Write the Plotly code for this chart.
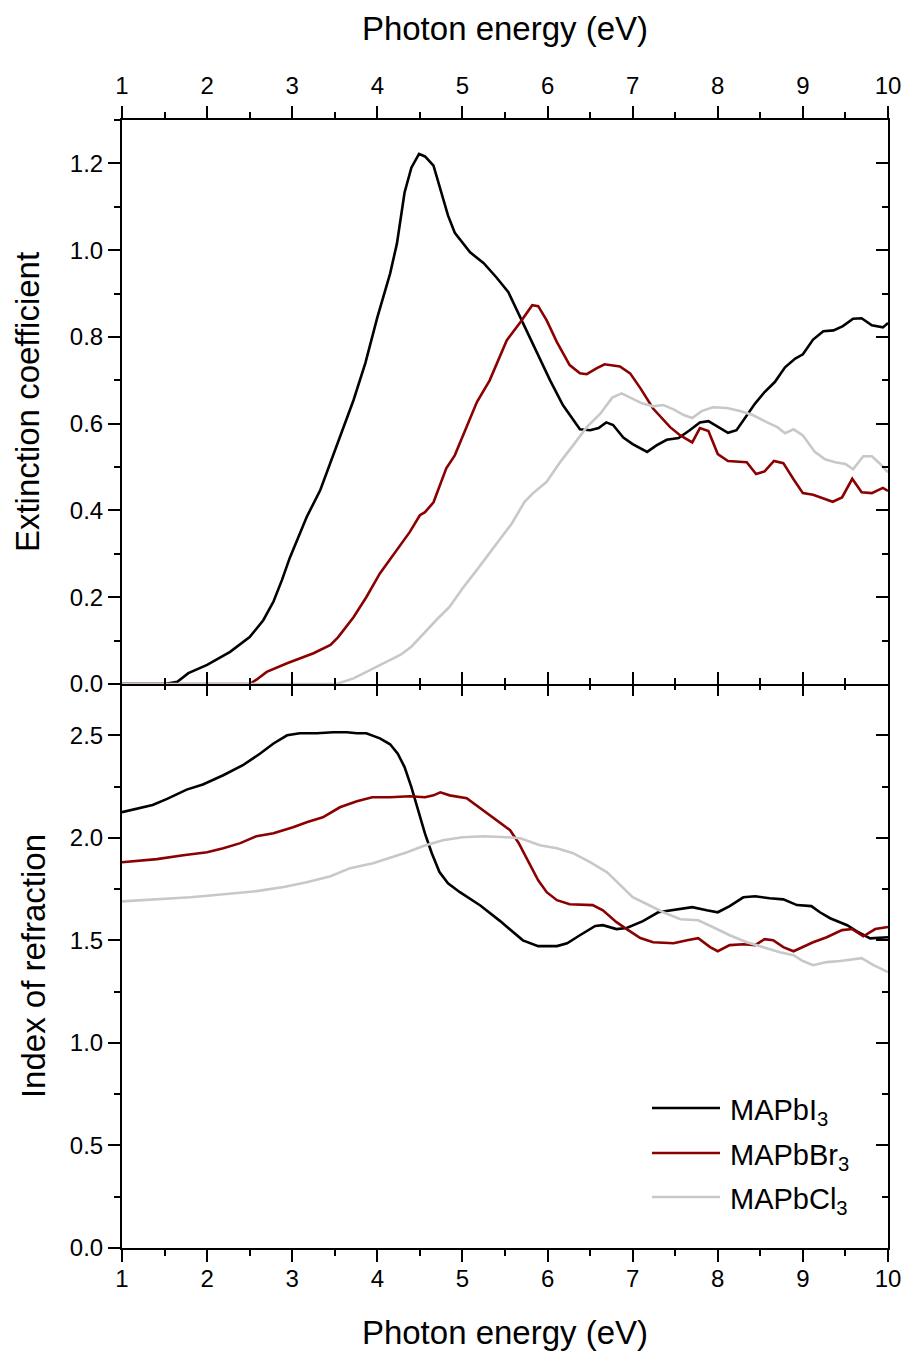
import plotly.graph_objects as go

# ---------------- data ----------------
# Extinction coefficient (top panel)
k_I_x = [1.0, 1.5, 1.65, 1.78, 2.0, 2.27, 2.5, 2.66, 2.78, 2.88, 2.97, 3.17, 3.33, 3.52, 3.72, 3.86, 4.0, 4.15, 4.23,
         4.32, 4.4, 4.49, 4.56, 4.66, 4.76, 4.83, 4.91, 5.09, 5.25, 5.4, 5.54, 5.68, 5.89, 6.03, 6.18, 6.38, 6.5,
         6.6, 6.69, 6.77, 6.89, 7.0, 7.17, 7.28, 7.4, 7.54, 7.67, 7.79, 7.89, 8.0, 8.12, 8.22, 8.32, 8.44, 8.55,
         8.67, 8.79, 8.91, 9.0, 9.12, 9.24, 9.36, 9.47, 9.59, 9.69, 9.81, 9.94, 10.0]
k_I_y = [0.0, 0.0, 0.005, 0.025, 0.044, 0.074, 0.108, 0.147, 0.19, 0.24, 0.29, 0.385, 0.447, 0.546, 0.654, 0.74,
         0.845, 0.946, 1.015, 1.133, 1.19, 1.222, 1.216, 1.195, 1.13, 1.08, 1.04, 0.995, 0.97, 0.937, 0.903, 0.845,
         0.757, 0.70, 0.643, 0.587, 0.585, 0.59, 0.603, 0.597, 0.568, 0.553, 0.535, 0.55, 0.563, 0.567, 0.585,
         0.603, 0.606, 0.593, 0.579, 0.585, 0.612, 0.647, 0.673, 0.696, 0.73, 0.75, 0.76, 0.794, 0.813, 0.815,
         0.825, 0.842, 0.843, 0.827, 0.822, 0.832]

k_Br_x = [1.0, 2.5, 2.58, 2.7, 2.94, 3.25, 3.45, 3.54, 3.72, 3.87, 4.03, 4.23, 4.38, 4.5, 4.56, 4.66, 4.81, 4.91,
          5.0, 5.09, 5.17, 5.32, 5.52, 5.68, 5.82, 5.89, 5.99, 6.11, 6.26, 6.38, 6.46, 6.58, 6.67, 6.85, 6.97,
          7.09, 7.24, 7.44, 7.56, 7.7, 7.79, 7.89, 8.0, 8.12, 8.34, 8.45, 8.55, 8.66, 8.77, 8.89, 9.0, 9.12,
          9.24, 9.35, 9.46, 9.58, 9.69, 9.81, 9.94, 10.0]
k_Br_y = [0.0, 0.0, 0.01, 0.028, 0.048, 0.071, 0.09, 0.108, 0.154, 0.2, 0.255, 0.309, 0.35, 0.389, 0.396, 0.419,
          0.497, 0.527, 0.569, 0.615, 0.65, 0.70, 0.792, 0.834, 0.873, 0.871, 0.838, 0.788, 0.735, 0.716, 0.714,
          0.728, 0.737, 0.732, 0.716, 0.682, 0.635, 0.592, 0.573, 0.557, 0.59, 0.583, 0.53, 0.514, 0.511, 0.484,
          0.49, 0.514, 0.509, 0.472, 0.44, 0.436, 0.428, 0.42, 0.43, 0.473, 0.442, 0.44, 0.452, 0.445]

k_Cl_x = [1.0, 3.52, 3.72, 4.0, 4.27, 4.4, 4.56, 4.71, 4.85, 5.0, 5.17, 5.36, 5.58, 5.73, 5.83, 5.99, 6.15, 6.3,
          6.46, 6.62, 6.76, 6.87, 6.97, 7.11, 7.24, 7.36, 7.48, 7.6, 7.7, 7.81, 7.94, 8.11, 8.26, 8.41, 8.58,
          8.7, 8.79, 8.89, 9.0, 9.14, 9.26, 9.38, 9.5, 9.59, 9.71, 9.81, 9.9, 10.0]
k_Cl_y = [0.0, 0.0, 0.013, 0.04, 0.067, 0.086, 0.12, 0.151, 0.178, 0.22, 0.263, 0.313, 0.37, 0.42, 0.44, 0.466,
          0.512, 0.55, 0.592, 0.623, 0.66, 0.67, 0.66, 0.647, 0.64, 0.643, 0.633, 0.62, 0.613, 0.629, 0.638,
          0.636, 0.629, 0.62, 0.603, 0.592, 0.578, 0.587, 0.573, 0.535, 0.518, 0.511, 0.507, 0.495, 0.525,
          0.525, 0.509, 0.488]

# Index of refraction (bottom panel)
n_I_x = [1.0, 1.36, 1.53, 1.76, 1.95, 2.19, 2.42, 2.62, 2.78, 2.94, 3.09, 3.29, 3.48, 3.64, 3.76, 3.87, 4.03,
         4.15, 4.24, 4.32, 4.4, 4.48, 4.56, 4.64, 4.73, 4.83, 4.97, 5.21, 5.44, 5.71, 5.89, 6.11, 6.23, 6.38,
         6.56, 6.65, 6.81, 6.93, 7.12, 7.3, 7.48, 7.7, 7.87, 8.0, 8.14, 8.3, 8.44, 8.61, 8.77, 8.93, 9.1, 9.2,
         9.32, 9.52, 9.63, 9.79, 10.0]
n_I_y = [2.125, 2.16, 2.19, 2.235, 2.26, 2.305, 2.354, 2.41, 2.46, 2.5, 2.51, 2.51, 2.515, 2.515, 2.51, 2.51,
         2.485, 2.456, 2.41, 2.345, 2.247, 2.134, 2.02, 1.925, 1.833, 1.778, 1.735, 1.67, 1.595, 1.5, 1.472,
         1.472, 1.486, 1.525, 1.57, 1.574, 1.555, 1.56, 1.594, 1.637, 1.647, 1.662, 1.647, 1.637, 1.667, 1.71,
         1.715, 1.705, 1.7, 1.672, 1.667, 1.637, 1.608, 1.574, 1.545, 1.51, 1.515]

n_Br_x = [1.0, 1.41, 1.72, 2.0, 2.19, 2.39, 2.58, 2.78, 3.01, 3.17, 3.36, 3.56, 3.76, 3.94, 4.15, 4.38, 4.56,
          4.66, 4.74, 4.85, 5.05, 5.24, 5.44, 5.56, 5.66, 5.79, 5.89, 5.99, 6.11, 6.26, 6.53, 6.65, 6.81, 6.93,
          7.09, 7.24, 7.48, 7.64, 7.77, 7.91, 8.0, 8.14, 8.3, 8.44, 8.55, 8.65, 8.77, 8.89, 9.0, 9.12, 9.28,
          9.46, 9.58, 9.71, 9.85, 10.0]
n_Br_y = [1.881, 1.896, 1.915, 1.93, 1.949, 1.974, 2.008, 2.022, 2.052, 2.076, 2.1, 2.149, 2.178, 2.198, 2.198,
          2.203, 2.198, 2.207, 2.222, 2.207, 2.193, 2.134, 2.076, 2.037, 1.975, 1.876, 1.793, 1.735, 1.696,
          1.676, 1.672, 1.647, 1.589, 1.555, 1.511, 1.491, 1.486, 1.501, 1.511, 1.467, 1.447, 1.477, 1.481,
          1.477, 1.506, 1.501, 1.467, 1.447, 1.467, 1.491, 1.515, 1.55, 1.555, 1.52, 1.555, 1.565]

n_Cl_x = [1.0, 1.41, 1.8, 2.07, 2.31, 2.58, 2.9, 3.17, 3.45, 3.68, 3.95, 4.18, 4.35, 4.54, 4.77, 5.0, 5.25,
          5.52, 5.68, 5.91, 6.11, 6.3, 6.5, 6.7, 6.85, 7.0, 7.17, 7.36, 7.56, 7.77, 7.94, 8.14, 8.34, 8.53,
          8.73, 8.89, 9.0, 9.12, 9.28, 9.44, 9.55, 9.69, 9.83, 10.0]
n_Cl_y = [1.69, 1.7, 1.71, 1.72, 1.73, 1.74, 1.76, 1.783, 1.813, 1.852, 1.876, 1.906, 1.93, 1.96, 1.988, 2.003,
          2.008, 2.003, 1.998, 1.964, 1.949, 1.925, 1.881, 1.832, 1.769, 1.71, 1.676, 1.637, 1.603, 1.598,
          1.565, 1.525, 1.491, 1.467, 1.442, 1.428, 1.399, 1.379, 1.394, 1.399, 1.404, 1.413, 1.379, 1.345]

series_names = ["MAPbI<sub>3</sub>", "MAPbBr<sub>3</sub>", "MAPbCl<sub>3</sub>"]
colors = ["#000000", "#8B0000", "#C8C8C8"]

x_ticks = [1, 2, 3, 4, 5, 6, 7, 8, 9, 10]
k_ticks = [0.0, 0.2, 0.4, 0.6, 0.8, 1.0, 1.2]
n_ticks = [0.0, 0.5, 1.0, 1.5, 2.0, 2.5]

# ---------------- figure ----------------
FONT = "Liberation Sans"
fig = go.Figure()

top = [(k_I_x, k_I_y), (k_Br_x, k_Br_y), (k_Cl_x, k_Cl_y)]
bot = [(n_I_x, n_I_y), (n_Br_x, n_Br_y), (n_Cl_x, n_Cl_y)]

for i, (xs, ys) in enumerate(top):
    fig.add_trace(go.Scatter(x=xs, y=ys, mode="lines", xaxis="x", yaxis="y",
                             line=dict(color=colors[i], width=2.6), showlegend=False, name=series_names[i]))
for i, (xs, ys) in enumerate(bot):
    fig.add_trace(go.Scatter(x=xs, y=ys, mode="lines", xaxis="x2", yaxis="y2",
                             line=dict(color=colors[i], width=2.6), showlegend=False, name=series_names[i]))

# empty traces so the overlay (mirror-tick) axes get drawn
for xa, ya in [("x3", "y"), ("x", "y3"), ("x4", "y2"), ("x2", "y4")]:
    fig.add_trace(go.Scatter(x=[], y=[], xaxis=xa, yaxis=ya, showlegend=False, hoverinfo="skip"))

tickfont = dict(family=FONT, size=24, color="black")
titlefont = dict(family=FONT, size=33, color="black")
LW = 2

common_x = dict(range=[1, 10], showgrid=False, zeroline=False, showline=True, linecolor="black", linewidth=LW,
                tickvals=x_ticks, ticklen=12, tickwidth=2, tickcolor="black",
                tickfont=tickfont, automargin=False)

fig.update_layout(
    template="none",
    width=908, height=1355,
    margin=dict(l=122, r=20, t=120, b=107),
    paper_bgcolor="white", plot_bgcolor="white",
    font=dict(family=FONT, color="black"),
    showlegend=False,
    xaxis=dict(**common_x, domain=[0, 1], anchor="y", side="top", ticks="outside", ticklabelstandoff=2,
               minor=dict(dtick=0.5, ticks="outside", ticklen=6, tickwidth=2, tickcolor="black"),
               title=dict(text="Photon energy (eV)", font=titlefont, standoff=22)),
    xaxis3=dict(**common_x, overlaying="x", anchor="y", side="bottom", ticks="inside", showticklabels=False,
                minor=dict(dtick=0.5, ticks="inside", ticklen=6, tickwidth=2, tickcolor="black")),
    xaxis2=dict(**common_x, domain=[0, 1], anchor="y2", side="bottom", ticks="outside", ticklabelstandoff=-4,
                minor=dict(dtick=0.5, ticks="outside", ticklen=6, tickwidth=2, tickcolor="black"),
                title=dict(text="Photon energy (eV)", font=titlefont, standoff=30)),
    yaxis=dict(domain=[0.5, 1], anchor="x", range=[0, 1.3], showgrid=False, zeroline=False, showline=True,
               linecolor="black", linewidth=LW, tickvals=k_ticks, tickformat=".1f", ticks="outside",
               ticklen=12, tickwidth=2, tickcolor="black", tickfont=tickfont, automargin=False,
               minor=dict(dtick=0.1, ticks="outside", ticklen=6, tickwidth=2, tickcolor="black"),
               title=dict(text="Extinction coefficient", font=titlefont, standoff=20)),
    yaxis3=dict(overlaying="y", anchor="x", side="right", range=[0, 1.3], showgrid=False, zeroline=False,
                showline=True, linecolor="black", linewidth=LW, tickvals=k_ticks, ticks="inside",
                ticklen=12, tickwidth=2, tickcolor="black", showticklabels=False, automargin=False,
                minor=dict(dtick=0.1, ticks="inside", ticklen=6, tickwidth=2, tickcolor="black")),
    yaxis2=dict(domain=[0, 0.5], anchor="x2", range=[0, 2.75], showgrid=False, zeroline=False, showline=True,
                linecolor="black", linewidth=LW, tickvals=n_ticks, tickformat=".1f", ticks="outside",
                ticklen=12, tickwidth=2, tickcolor="black", tickfont=tickfont, automargin=False,
                minor=dict(dtick=0.25, ticks="outside", ticklen=6, tickwidth=2, tickcolor="black"),
                title=dict(text="Index of refraction", font=titlefont, standoff=14)),
    yaxis4=dict(overlaying="y2", anchor="x2", side="right", range=[0, 2.75], showgrid=False, zeroline=False,
                showline=True, linecolor="black", linewidth=LW, tickvals=n_ticks, ticks="inside",
                ticklen=12, tickwidth=2, tickcolor="black", showticklabels=False, automargin=False,
                minor=dict(dtick=0.25, ticks="inside", ticklen=6, tickwidth=2, tickcolor="black")),
)
fig.update_layout(xaxis4=dict(**common_x, overlaying="x2", anchor="y2", side="top", ticks="inside",
                              showticklabels=False,
                              minor=dict(dtick=0.5, ticks="inside", ticklen=6, tickwidth=2, tickcolor="black")))
fig.update_layout(xaxis4_showline=False)

# legend (drawn as sample lines + text in paper coordinates)
leg_x0, leg_x1, leg_tx = 0.6919, 0.7807, 0.7911
leg_ys = [0.1241, 0.0842, 0.0452]
for i in range(3):
    fig.add_shape(type="line", xref="paper", yref="paper", x0=leg_x0, x1=leg_x1, y0=leg_ys[i], y1=leg_ys[i],
                  line=dict(color=colors[i], width=2.6))
    fig.add_annotation(xref="paper", yref="paper", x=leg_tx, y=leg_ys[i], xanchor="left", yanchor="middle",
                       yshift=-4, text=series_names[i], showarrow=False,
                       font=dict(family=FONT, size=29, color="black"))

fig.write_html("out.html")
